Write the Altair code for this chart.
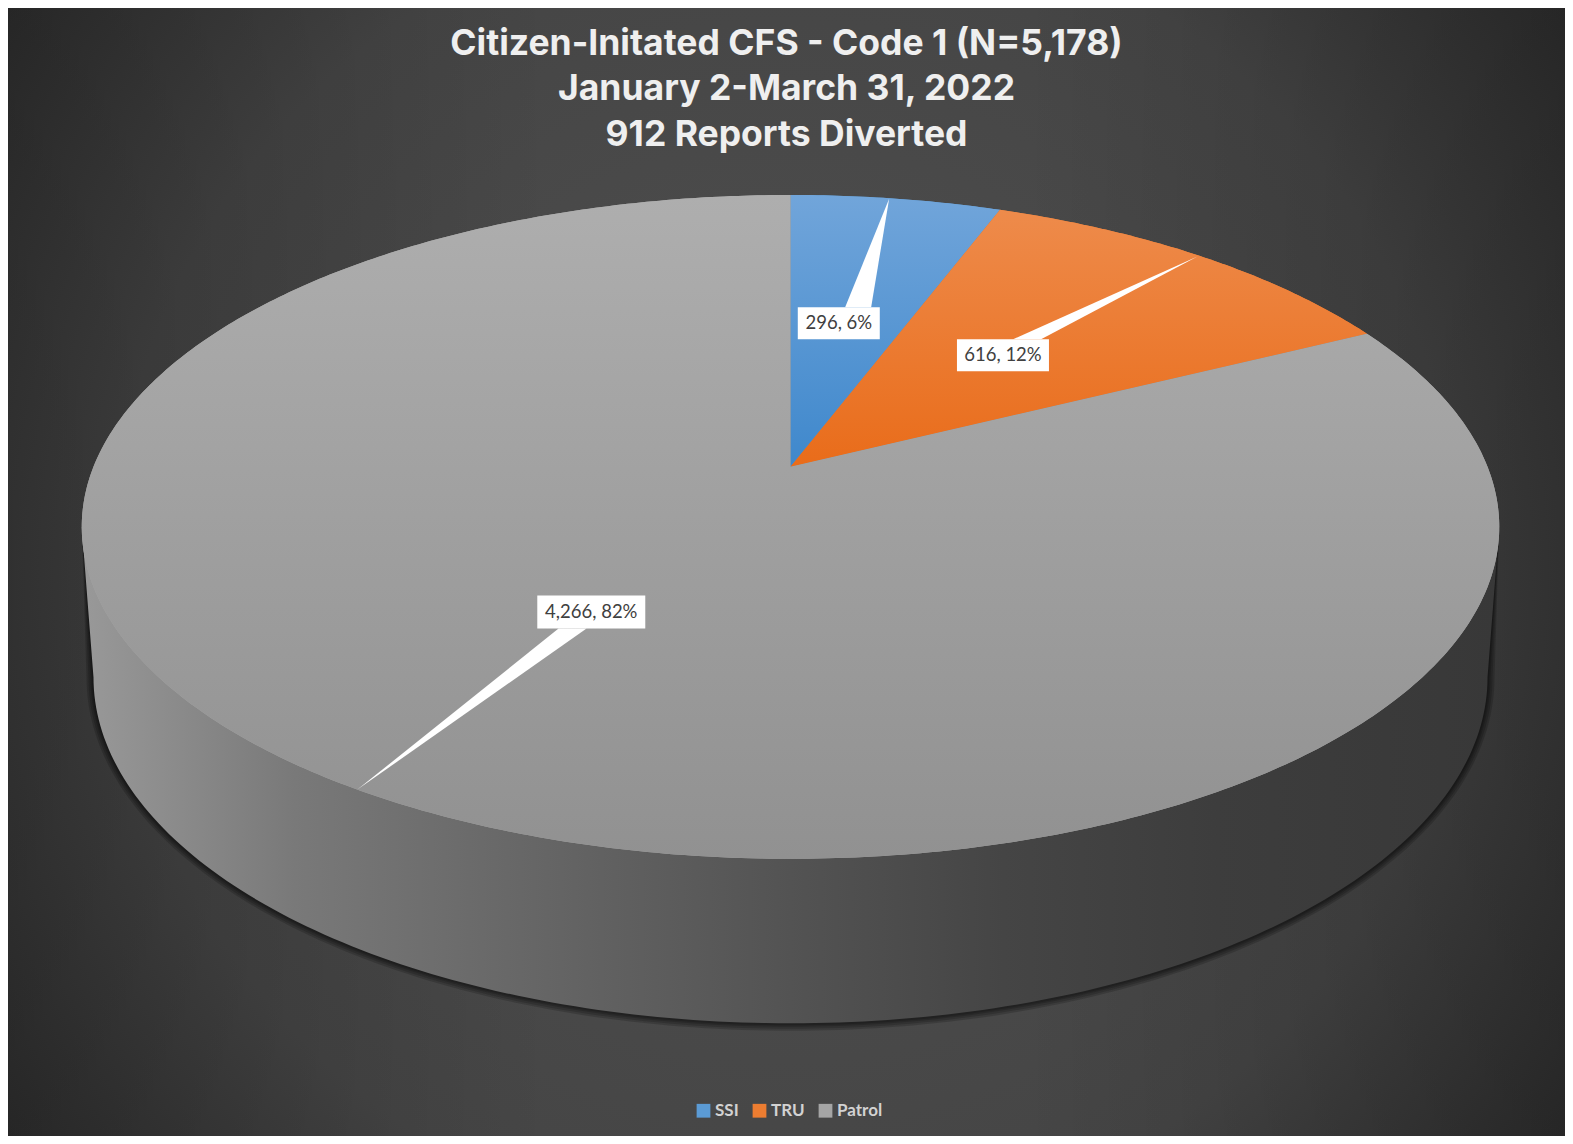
import math
import altair as alt

# ---- data
categories = ["SSI", "TRU", "Patrol"]
values = [296, 616, 4266]
title_lines = ["Citizen-Initated CFS - Code 1 (N=5,178)", "January 2-March 31, 2022", "912 Reports Diverted"]

flat_colors = ["#5b9bd5", "#ed7d31", "#a5a5a5"]
grad_top = ["#71a5da", "#ee8b4b", "#aeaeae"]
grad_bot = ["#3f88cc", "#e96c1a", "#919191"]

# ---- layout: perspective disc (chart pixels)
W, H = 1557, 1128
CX, Y0 = 782.5, 458.7      # apex of the slices
A, B, K = 697.0, 321.0, 0.1813
BASE_CY, BASE_RX, BASE_RY = 669.3, 697.0, 346.0
label_frac = [(0.457, 0.535), (0.517, 0.53), (0.46, 0.45)]
box_size = [(82, 32), (92, 32), (108, 33)]
base_shift = [12, -8, 3]
base_half = [13, 14, 14]
tip_shift = [-7, -4, 0]

total = sum(values)


def rim(theta):
    u, v = math.sin(theta), math.cos(theta)
    w = 1 + K * v
    return [CX + A * u / w, Y0 - B * v / w]


def feature(ring, name="x"):
    ring = ring + [ring[0]]
    return {"type": "Feature", "properties": {"name": name},
            "geometry": {"type": "Polygon", "coordinates": [ring]}}


def shape(features, **mark):
    return alt.Chart(alt.Data(values=features)).mark_geoshape(**mark).project(
        type="identity", scale=1, translate=[0, 0])


def vgrad(top, bot):
    return alt.LinearGradient(gradient="linear", x1=0, x2=0, y1=0, y2=1,
                              stops=[alt.GradientStop(offset=0, color=top),
                                     alt.GradientStop(offset=1, color=bot)])


# slices
edges = [0.0]
for v in values:
    edges.append(edges[-1] + 2 * math.pi * v / total)
slices = []
mids = []
for i, name in enumerate(categories):
    a, b = edges[i], edges[i + 1]
    n = max(4, int((b - a) * 90))
    ring = [[CX, Y0]] + [rim(a + (b - a) * j / n) for j in range(n + 1)]
    slices.append(feature(ring, name))
    mids.append((a + b) / 2)

layers = []
frame = [[0, 0], [W, 0], [W, H], [0, H]]

# background
layers.append(shape([feature(frame)], strokeWidth=0,
                    fill=alt.RadialGradient(gradient="radial", x1=0.5, y1=0.5, x2=0.5, y2=0.5, r1=0, r2=0.72,
                                            stops=[alt.GradientStop(offset=0, color="#505050"),
                                                   alt.GradientStop(offset=0.6, color="#454545"),
                                                   alt.GradientStop(offset=1, color="#262626")])))
layers.append(shape([feature(frame)], strokeWidth=0,
                    fill=alt.LinearGradient(gradient="linear", x1=0, x2=1, y1=0, y2=0,
                                            stops=[alt.GradientStop(offset=0, color="rgba(0,0,0,0.22)"),
                                                   alt.GradientStop(offset=0.35, color="rgba(0,0,0,0)"),
                                                   alt.GradientStop(offset=0.65, color="rgba(0,0,0,0)"),
                                                   alt.GradientStop(offset=1, color="rgba(0,0,0,0.22)")])))


def base_arc(grow=0.0, dy=0.0):
    n = 180
    return [[CX + (BASE_RX + grow) * math.cos(math.pi * j / n),
             BASE_CY + dy + (BASE_RY + grow) * math.sin(math.pi * j / n)] for j in range(n + 1)]


ext_r = rim(math.acos(-K))
ext_l = rim(2 * math.pi - math.acos(-K))

# soft shadow below the wall
for g in [7, 5, 3, 1.5]:
    layers.append(shape([feature([ext_r] + base_arc(g, 0.5) + [ext_l])], fill="#000000", fillOpacity=0.17, strokeWidth=0))

# side wall
wall = [ext_r] + base_arc() + [ext_l]
layers.append(shape([feature(wall)], strokeWidth=0,
                    fill=alt.LinearGradient(gradient="linear", x1=0, x2=1, y1=0, y2=0,
                                            stops=[alt.GradientStop(offset=0, color="#999999"),
                                                   alt.GradientStop(offset=0.15, color="#797979"),
                                                   alt.GradientStop(offset=0.3, color="#686868"),
                                                   alt.GradientStop(offset=0.5, color="#535353"),
                                                   alt.GradientStop(offset=0.65, color="#454545"),
                                                   alt.GradientStop(offset=0.8, color="#3d3d3d"),
                                                   alt.GradientStop(offset=1, color="#383838")])))

# flat slices carry the legend
layers.append(
    shape(slices, strokeWidth=0).encode(
        color=alt.Color("properties.name:N",
                        scale=alt.Scale(domain=categories, range=flat_colors),
                        legend=alt.Legend(orient="none", legendX=687, legendY=1094, direction="horizontal",
                                          title=None, symbolType="square", symbolSize=190, symbolStrokeWidth=0,
                                          labelFont="Lato", labelFontSize=17, labelFontWeight="bold",
                                          labelColor="#d2d2d2", columnPadding=12, labelOffset=3))
    )
)
# gradient shading on the slices
for i, f in enumerate(slices):
    layers.append(shape([f], strokeWidth=0, fill=vgrad(grad_top[i], grad_bot[i])))

# data-label call-outs
labels = []
for i, name in enumerate(categories):
    rim_pt = rim(mids[i])
    fx, fy = label_frac[i]
    lx = CX + (rim_pt[0] - CX) * fx
    ly = Y0 + (rim_pt[1] - Y0) * fy
    tip = [rim_pt[0] + tip_shift[i], rim_pt[1]]
    bw, bh = box_size[i]
    edge_y = ly - bh / 2 if tip[1] < ly else ly + bh / 2
    bx = lx + (rim_pt[0] - lx) * (edge_y - ly) / (rim_pt[1] - ly) + base_shift[i]
    hw = base_half[i]
    layers.append(shape([feature([[bx - hw, edge_y], tip, [bx + hw, edge_y]])], fill="#ffffff", strokeWidth=0))
    layers.append(shape([feature([[lx - bw / 2, ly - bh / 2], [lx + bw / 2, ly - bh / 2],
                                  [lx + bw / 2, ly + bh / 2], [lx - bw / 2, ly + bh / 2]])],
                        fill="#ffffff", strokeWidth=0))
    pct = round(100 * values[i] / total)
    labels.append({"lon": lx, "lat": ly, "text": f"{values[i]:,}, {pct}%"})

layers.append(
    alt.Chart(alt.Data(values=labels)).mark_text(font="Lato", fontSize=18.5, color="#404040", baseline="middle",
                                                  align="center").encode(
        longitude="lon:Q", latitude="lat:Q", text="text:N").project(type="identity", scale=1, translate=[0, 0])
)

chart = alt.layer(*layers).properties(
    width=W, height=H, padding=0, autosize=alt.AutoSizeParams(type="none"),
    background="#2a2a2a",
    title=alt.TitleParams(text=title_lines, anchor="middle", font="Inter", fontSize=35.5, fontWeight="bold",
                          color="#efefef", lineHeight=45.5, baseline="top", dy=145, offset=0),
).configure_view(stroke=None)

chart.save("out.html", embed_options={"renderer": "svg", "actions": False})
